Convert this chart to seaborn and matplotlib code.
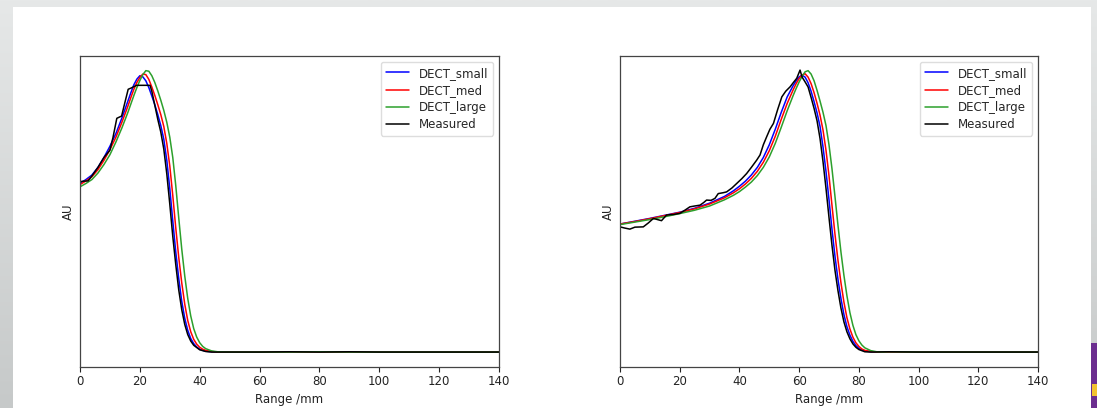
import numpy as np
import pandas as pd
import matplotlib
matplotlib.use("Agg")
import matplotlib.pyplot as plt
import seaborn as sns
from matplotlib.patches import Rectangle
from matplotlib.colors import LinearSegmentedColormap

# ---------------- data ----------------
series_names = ["DECT_small", "DECT_med", "DECT_large", "Measured"]
series_colors = ["#0000ff", "#ff0000", "#2ca02c", "#000000"]

# Left panel
left_model_x = [0, 2, 4, 6, 8, 10, 12, 14, 16, 17, 18, 19, 20, 21, 22, 23, 24, 25, 26, 27,
                28, 29, 30, 31, 32, 33, 34, 35, 36, 37, 38, 39, 40, 41, 42, 44, 46, 50,
                60, 70, 80, 90, 100, 110, 120, 130, 140]
left_small = [0.598, 0.612, 0.628, 0.655, 0.69, 0.73, 0.775, 0.83, 0.89, 0.92, 0.948, 0.968,
              0.98, 0.976, 0.962, 0.938, 0.908, 0.877, 0.842, 0.803, 0.755, 0.68, 0.58, 0.465,
              0.355, 0.26, 0.18, 0.12, 0.077, 0.048, 0.03, 0.018, 0.01, 0.006, 0.003, 0.001,
              0.0, 0.0, 0.0, 0.0, 0.0, 0.0, 0.0, 0.0, 0.0, 0.0, 0.0]
left_med = [0.594, 0.607, 0.622, 0.647, 0.68, 0.718, 0.762, 0.815, 0.872, 0.903, 0.932, 0.956,
            0.974, 0.986, 0.984, 0.967, 0.94, 0.91, 0.877, 0.842, 0.8, 0.74, 0.66, 0.555,
            0.44, 0.335, 0.245, 0.17, 0.112, 0.072, 0.045, 0.028, 0.017, 0.01, 0.006, 0.002,
            0.0, 0.0, 0.0, 0.0, 0.0, 0.0, 0.0, 0.0, 0.0, 0.0, 0.0]
left_large = [0.586, 0.598, 0.612, 0.635, 0.665, 0.7, 0.745, 0.795, 0.85, 0.88, 0.91, 0.938,
              0.963, 0.984, 0.998, 0.996, 0.98, 0.956, 0.926, 0.893, 0.857, 0.815, 0.762, 0.69,
              0.59, 0.475, 0.365, 0.27, 0.19, 0.128, 0.083, 0.053, 0.033, 0.02, 0.012, 0.004,
              0.001, 0.0, 0.0, 0.0, 0.001, 0.0, 0.0, 0.0, 0.0, 0.0, 0.0]
left_meas_x = [0, 1, 2.7, 4, 6, 8, 10, 11, 12.3, 13.9, 15, 16.1, 17, 18.9, 23.4, 24, 25, 26,
               27, 28, 29, 30, 31, 32, 33, 34, 35, 36, 37, 38, 40, 42, 44, 50, 60, 70, 80,
               90, 100, 110, 120, 130, 140]
left_meas = [0.604, 0.606, 0.607, 0.625, 0.655, 0.69, 0.716, 0.76, 0.829, 0.837, 0.885, 0.932,
             0.936, 0.946, 0.946, 0.925, 0.875, 0.825, 0.78, 0.72, 0.632, 0.525, 0.41, 0.31,
             0.22, 0.15, 0.098, 0.062, 0.039, 0.024, 0.008, 0.002, 0.0, 0.0, 0.0, 0.001, 0.0,
             0.001, 0.0, 0.0, 0.0, 0.0, 0.0]

# Right panel
right_model_x = [0, 5, 10, 15, 20, 25, 30, 35, 38, 40, 42, 44, 46, 48, 50, 52, 54, 56, 58, 59,
                 60, 61, 62, 63, 64, 65, 66, 67, 68, 69, 70, 71, 72, 73, 74, 75, 76, 77, 78,
                 79, 80, 81, 82, 84, 86, 88, 90, 100, 110, 120, 130, 140]
right_small = [0.454, 0.464, 0.474, 0.485, 0.496, 0.51, 0.528, 0.552, 0.572, 0.588, 0.606,
               0.628, 0.655, 0.69, 0.735, 0.79, 0.85, 0.905, 0.945, 0.962, 0.976, 0.982, 0.975,
               0.955, 0.925, 0.888, 0.848, 0.8, 0.727, 0.64, 0.54, 0.435, 0.34, 0.258, 0.19,
               0.133, 0.09, 0.06, 0.038, 0.023, 0.013, 0.007, 0.004, 0.001, 0.0, 0.0, 0.0,
               0.0, 0.0, 0.0, 0.0, 0.0]
right_med = [0.454, 0.463, 0.473, 0.484, 0.495, 0.508, 0.525, 0.547, 0.565, 0.579, 0.596,
             0.616, 0.641, 0.673, 0.714, 0.765, 0.825, 0.882, 0.93, 0.952, 0.97, 0.983, 0.987,
             0.975, 0.952, 0.92, 0.882, 0.84, 0.787, 0.715, 0.625, 0.52, 0.418, 0.326, 0.246,
             0.177, 0.122, 0.082, 0.053, 0.033, 0.02, 0.011, 0.006, 0.002, 0.0, 0.0, 0.0,
             0.0, 0.0, 0.0, 0.0, 0.0]
right_large = [0.452, 0.461, 0.47, 0.48, 0.491, 0.503, 0.518, 0.54, 0.556, 0.569, 0.585,
               0.603, 0.626, 0.655, 0.692, 0.74, 0.797, 0.856, 0.91, 0.935, 0.958, 0.978,
               0.994, 0.998, 0.986, 0.962, 0.928, 0.89, 0.85, 0.803, 0.735, 0.65, 0.552, 0.45,
               0.355, 0.272, 0.2, 0.14, 0.095, 0.062, 0.04, 0.025, 0.015, 0.005, 0.001, 0.0,
               0.001, 0.0, 0.0, 0.0, 0.0, 0.0]
right_meas_x = [0, 1.5, 3.3, 5, 7.8, 9.5, 11.2, 12.5, 13.9, 15.6, 18, 20.1, 22, 23.4, 25, 26.8,
                28, 29, 30.5, 31.8, 32.9, 34.5, 35.7, 37.5, 39.1, 40.8, 42.4, 44, 45.8, 46.9,
                48, 49.1, 50.2, 51.4, 52.8, 54.2, 55.5, 57, 58, 59.2, 60.3, 61, 62, 63, 64, 65,
                66, 67, 68, 69, 70, 71, 72, 73, 74, 75, 76, 77, 78, 79, 80, 82, 84, 90, 100,
                110, 120, 130, 140]
right_meas = [0.444, 0.44, 0.436, 0.443, 0.444, 0.458, 0.474, 0.47, 0.466, 0.486, 0.488, 0.492,
              0.505, 0.515, 0.518, 0.521, 0.53, 0.539, 0.538, 0.545, 0.562, 0.565, 0.568, 0.582,
              0.598, 0.615, 0.633, 0.655, 0.681, 0.699, 0.735, 0.763, 0.79, 0.811, 0.86, 0.905,
              0.925, 0.941, 0.955, 0.971, 1.0, 0.975, 0.958, 0.94, 0.903, 0.864, 0.82, 0.757,
              0.675, 0.58, 0.477, 0.378, 0.29, 0.218, 0.156, 0.107, 0.072, 0.047, 0.029, 0.017,
              0.009, 0.001, 0.0, 0.001, 0.0, 0.0, 0.0, 0.0, 0.0]

x_ticks = [0, 20, 40, 60, 80, 100, 120, 140]
x_label = "Range /mm"
y_label = "AU"


def make_frame(model_x, small, med, large, meas_x, meas):
    parts = []
    for name, xs, ys in [("DECT_small", model_x, small), ("DECT_med", model_x, med),
                         ("DECT_large", model_x, large), ("Measured", meas_x, meas)]:
        parts.append(pd.DataFrame({"Range": xs, "AU": ys, "series": name}))
    return pd.concat(parts, ignore_index=True)


df_left = make_frame(left_model_x, left_small, left_med, left_large, left_meas_x, left_meas)
df_right = make_frame(right_model_x, right_small, right_med, right_large, right_meas_x, right_meas)

sns.set_theme(style="white")
plt.rcParams["font.family"] = ["DejaVu Sans"]

fig = plt.figure(figsize=(10.97, 4.08), dpi=100)
fig.patch.set_facecolor("#d3d6d6")

# gray slide backdrop with a soft vertical gradient
bg = fig.add_axes([0, 0, 1, 1], zorder=-10)
bg.axis("off")
grad_cmap = LinearSegmentedColormap.from_list("bg", ["#c6c9c9", "#e6e8e8"])
bg.imshow(np.linspace(0, 1, 256).reshape(-1, 1), aspect="auto", cmap=grad_cmap,
          origin="lower", extent=[0, 1, 0, 1])
bg.set_xlim(0, 1)
bg.set_ylim(0, 1)

# white slide panel
fig.patches.append(Rectangle((13 / 1097, 0), (1091 - 13) / 1097, (408 - 7) / 408,
                             transform=fig.transFigure, facecolor="white", edgecolor="none",
                             zorder=-5))
# purple corner element
fig.patches.append(Rectangle((1091 / 1097, 0), 6 / 1097, (408 - 343) / 408,
                             transform=fig.transFigure, facecolor="#6b2d8f", edgecolor="none",
                             zorder=-5))
fig.patches.append(Rectangle((1092 / 1097, 12 / 408), 5 / 1097, 12 / 408,
                             transform=fig.transFigure, facecolor="#f2c230", edgecolor="none",
                             zorder=-4))

ax1 = fig.add_axes([80 / 1097, 41 / 408, 419 / 1097, 311 / 408])
ax2 = fig.add_axes([620 / 1097, 41 / 408, 418 / 1097, 311 / 408])

palette = dict(zip(series_names, series_colors))

for ax, df in [(ax1, df_left), (ax2, df_right)]:
    sns.lineplot(data=df, x="Range", y="AU", hue="series", hue_order=series_names,
                 palette=palette, estimator=None, sort=False, linewidth=1.1, ax=ax)
    ax.set_xlim(0, 140)
    ax.set_ylim(-0.053, 1.05)
    ax.set_xticks(x_ticks)
    ax.set_yticks([])
    ax.set_xlabel(x_label, fontsize=8.5, color="#222222")
    ax.set_ylabel(y_label, fontsize=8.5, color="#222222")
    ax.tick_params(axis="x", labelsize=8.5, colors="#222222", bottom=True, length=3.5,
                   width=0.8, direction="out", pad=2)
    for sp in ax.spines.values():
        sp.set_color("#444444")
        sp.set_linewidth(0.9)
    ax.set_facecolor("white")
    handles, labels = ax.get_legend_handles_labels()
    ax.legend(handles=handles, labels=labels, loc="upper right", fontsize=8.5,
              frameon=True, framealpha=1.0, edgecolor="#dddddd", fancybox=True,
              handlelength=2.0, borderpad=0.4, labelspacing=0.35)

fig.savefig("out.png", dpi=100, facecolor=fig.get_facecolor())
